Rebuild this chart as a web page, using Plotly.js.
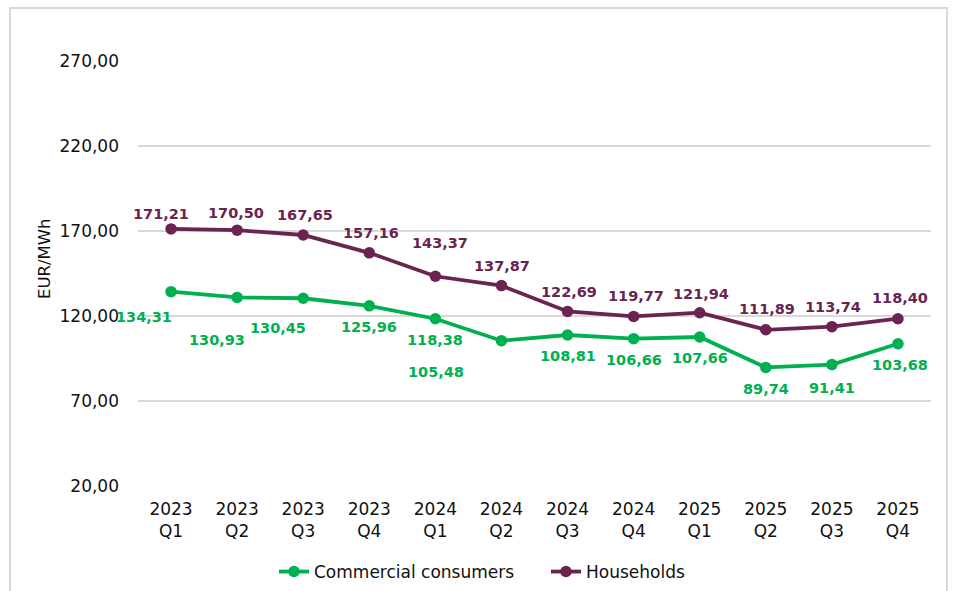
<!DOCTYPE html>
<html>
<head>
<meta charset="utf-8">
<script src="https://cdn.plot.ly/plotly-3.0.1.min.js"></script>
<style>
  html, body { margin: 0; padding: 0; background: #fff; }
  #wrap { position: relative; width: 954px; height: 591px; }
  #chart { position: absolute; left: 0; top: 0; width: 954px; height: 591px; }
  #frame { position: absolute; left: 9px; top: 7px; width: 939px; height: 600px;
           border: 2px solid #d9d9d9; pointer-events: none; box-sizing: border-box; }
</style>
</head>
<body>
<div id="wrap">
  <div id="chart"></div>
  <div id="frame"></div>
</div>
<script>
// ---- data ----
const quarters = ["2023<br>Q1","2023<br>Q2","2023<br>Q3","2023<br>Q4",
                  "2024<br>Q1","2024<br>Q2","2024<br>Q3","2024<br>Q4",
                  "2025<br>Q1","2025<br>Q2","2025<br>Q3","2025<br>Q4"];
const commercial = [134.31,130.93,130.45,125.96,118.38,105.48,108.81,106.66,107.66,89.74,91.41,103.68];
const households = [171.21,170.50,167.65,157.16,143.37,137.87,122.69,119.77,121.94,111.89,113.74,118.40];
const yTicks = [20,70,120,170,220,270];

// ---- label offsets (px, layout only) ----
const comDx = [-27,-20,-25,0,0,-65,0,0,0,0,0,2];
const comDy = [-25,-43,-30,-21,-21,-31,-21,-21,-21,-22,-23,-21];
const houDx = [-10,-1,2,2,5,1,1,2,1,1,1,2];
const houDy = [15,17,20,20,33,20,19,20,19,21,20,21];

const GREEN = "#00B050";
const PURPLE = "#6B2350";
const FONT = "DejaVu Sans, Verdana, sans-serif";

const fmt = v => v.toFixed(2).replace(".", ",");

const traces = [
  { x: quarters, y: commercial, name: "Commercial consumers", type: "scatter",
    mode: "lines+markers", line: {color: GREEN, width: 3.8},
    marker: {color: GREEN, size: 11.5}, hoverinfo: "skip" },
  { x: quarters, y: households, name: "Households", type: "scatter",
    mode: "lines+markers", line: {color: PURPLE, width: 3.8},
    marker: {color: PURPLE, size: 11.5}, hoverinfo: "skip" }
];

const annotations = [];
commercial.forEach((v, i) => annotations.push({
  x: quarters[i], y: v, xref: "x", yref: "y", text: fmt(v), showarrow: false,
  xshift: comDx[i], yshift: comDy[i], xanchor: "center", yanchor: "middle",
  font: {family: FONT, size: 14.5, color: GREEN, weight: "bold"}
}));
households.forEach((v, i) => annotations.push({
  x: quarters[i], y: v, xref: "x", yref: "y", text: fmt(v), showarrow: false,
  xshift: houDx[i], yshift: houDy[i], xanchor: "center", yanchor: "middle",
  font: {family: FONT, size: 14.5, color: PURPLE, weight: "bold"}
}));
annotations.push({
  text: "EUR/MWh", xref: "paper", yref: "paper", x: -(138-44)/793, y: (486-259)/425,
  xanchor: "center", yanchor: "middle", textangle: -90, showarrow: false,
  font: {family: FONT, size: 16.5, color: "#111"}
});

const layout = {
  width: 954, height: 591,
  margin: {l: 138, r: 23, t: 61, b: 105, autoexpand: false},
  paper_bgcolor: "#fff", plot_bgcolor: "#fff",
  font: {family: FONT, size: 16, color: "#111"},
  showlegend: true,
  legend: {orientation: "h", x: (274-138)/793, xanchor: "left",
           y: -(572-486)/425, yanchor: "middle", entrywidth: 227,
           font: {family: FONT, size: 17, color: "#111"},
           itemclick: false, itemdoubleclick: false},
  xaxis: {type: "category", range: [-0.5, 11.5], showgrid: false, zeroline: false,
          showline: false, ticks: "", ticklabelstandoff: 11,
          tickfont: {family: FONT, size: 17, color: "#111"}, fixedrange: true},
  yaxis: {range: [20, 270], tickvals: yTicks, ticktext: yTicks.map(fmt),
          showgrid: true, gridcolor: "#d9d9d9", gridwidth: 1.5, zeroline: false,
          showline: false, ticks: "", ticklabelstandoff: 18,
          tickfont: {family: FONT, size: 17, color: "#111"}, fixedrange: true},
  annotations: annotations
};

Plotly.newPlot("chart", traces, layout, {displayModeBar: false, staticPlot: true});
</script>
</body>
</html>
